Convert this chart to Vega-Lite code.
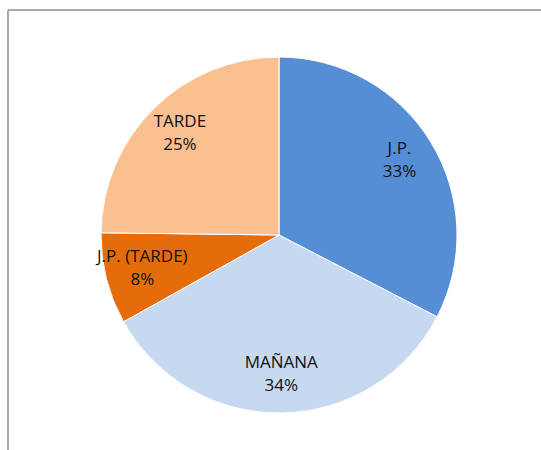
{
  "$schema": "https://vega.github.io/schema/vega-lite/v6.json",
  "width": 542,
  "height": 450,
  "autosize": "none",
  "padding": {"left": 8, "top": 10, "right": 0, "bottom": 0},
  "background": "white",
  "data": {"values": [
    {"idx": 1, "name": "J.P.", "share": 0.326},
    {"idx": 2, "name": "MAÑANA", "share": 0.343},
    {"idx": 3, "name": "J.P. (TARDE)", "share": 0.083},
    {"idx": 4, "name": "TARDE", "share": 0.248}
  ]},
  "layer": [
    {
      "mark": {"type": "rule", "stroke": "#A6A6A6", "strokeWidth": 1.2},
      "encoding": {"x": {"value": 0}, "y": {"value": 0}, "y2": {"value": "height"}}
    },
    {
      "mark": {"type": "rule", "stroke": "#A6A6A6", "strokeWidth": 1.2},
      "encoding": {"y": {"value": 0}, "x": {"value": 0}, "x2": {"value": "width"}}
    },
    {
      "encoding": {
        "theta": {"field": "share", "type": "quantitative", "stack": true},
        "order": {"field": "idx", "type": "quantitative"}
      },
      "layer": [
        {
          "mark": {"type": "arc", "radius": 178, "stroke": "white", "strokeWidth": 1},
          "encoding": {
            "color": {
              "field": "name", "type": "nominal", "legend": null,
              "scale": {"domain": ["J.P.", "MAÑANA", "J.P. (TARDE)", "TARDE"], "range": ["#558ED5", "#C6D9F1", "#E46C0A", "#FAC090"]}
            }
          }
        },
        {
          "mark": {"type": "text", "radius": 141, "dy": -13, "font": "Open Sans", "fontSize": 17, "fill": "#111"},
          "encoding": {"text": {"field": "name", "type": "nominal"}}
        },
        {
          "mark": {"type": "text", "radius": 141, "dy": 10, "font": "Open Sans", "fontSize": 17, "fill": "#111"},
          "encoding": {"text": {"field": "share", "type": "quantitative", "format": ".0%"}}
        }
      ]
    }
  ]
}
